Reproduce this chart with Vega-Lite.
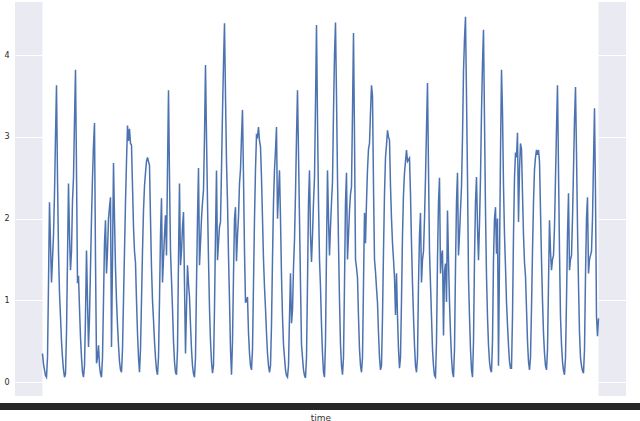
{
"$schema": "https://vega.github.io/schema/vega-lite/v6.json",
"width": 611, "height": 394,
"autosize": {"type": "none"},
"padding": {"left": 15, "top": 2, "right": 14, "bottom": 25},
"background": "white",
"config": {"view": {"fill": "#EAEAF2", "stroke": null}, "font": "DejaVu Sans"},
"data": {"values": [
{"time":"2016-01-01T00:00","value":0.35},{"time":"2016-01-01T01:00","value":0.22},{"time":"2016-01-01T02:00","value":0.15},{"time":"2016-01-01T03:00","value":0.08},{"time":"2016-01-01T04:00","value":0.06},{"time":"2016-01-01T05:00","value":0.3},{"time":"2016-01-01T06:00","value":1.2},{"time":"2016-01-01T07:00","value":2.2},{"time":"2016-01-01T08:00","value":1.7},{"time":"2016-01-01T09:00","value":1.22},{"time":"2016-01-01T10:00","value":1.5},{"time":"2016-01-01T11:00","value":1.8},{"time":"2016-01-01T12:00","value":2.3},{"time":"2016-01-01T13:00","value":3.0},{"time":"2016-01-01T14:00","value":3.63},{"time":"2016-01-01T15:00","value":2.5},{"time":"2016-01-01T16:00","value":1.6},{"time":"2016-01-01T17:00","value":1.09},{"time":"2016-01-01T18:00","value":0.8},{"time":"2016-01-01T19:00","value":0.5},{"time":"2016-01-01T20:00","value":0.3},{"time":"2016-01-01T21:00","value":0.15},{"time":"2016-01-01T22:00","value":0.06},{"time":"2016-01-01T23:00","value":0.1},
{"time":"2016-01-02T00:00","value":0.6},{"time":"2016-01-02T01:00","value":1.5},{"time":"2016-01-02T02:00","value":2.43},{"time":"2016-01-02T03:00","value":1.8},{"time":"2016-01-02T04:00","value":1.37},{"time":"2016-01-02T05:00","value":1.6},{"time":"2016-01-02T06:00","value":2.22},{"time":"2016-01-02T07:00","value":2.5},{"time":"2016-01-02T08:00","value":3.2},{"time":"2016-01-02T09:00","value":3.82},{"time":"2016-01-02T10:00","value":2.6},{"time":"2016-01-02T11:00","value":1.21},{"time":"2016-01-02T12:00","value":1.3},{"time":"2016-01-02T13:00","value":0.9},{"time":"2016-01-02T14:00","value":0.55},{"time":"2016-01-02T15:00","value":0.3},{"time":"2016-01-02T16:00","value":0.12},{"time":"2016-01-02T17:00","value":0.06},{"time":"2016-01-02T18:00","value":0.2},{"time":"2016-01-02T19:00","value":0.8},{"time":"2016-01-02T20:00","value":1.61},{"time":"2016-01-02T21:00","value":1.0},{"time":"2016-01-02T22:00","value":0.43},{"time":"2016-01-02T23:00","value":0.8},
{"time":"2016-01-03T00:00","value":1.4},{"time":"2016-01-03T01:00","value":2.0},{"time":"2016-01-03T02:00","value":2.5},{"time":"2016-01-03T03:00","value":2.9},{"time":"2016-01-03T04:00","value":3.17},{"time":"2016-01-03T05:00","value":1.5},{"time":"2016-01-03T06:00","value":0.23},{"time":"2016-01-03T07:00","value":0.3},{"time":"2016-01-03T08:00","value":0.45},{"time":"2016-01-03T09:00","value":0.2},{"time":"2016-01-03T10:00","value":0.1},{"time":"2016-01-03T11:00","value":0.06},{"time":"2016-01-03T12:00","value":0.3},{"time":"2016-01-03T13:00","value":1.0},{"time":"2016-01-03T14:00","value":1.7},{"time":"2016-01-03T15:00","value":1.98},{"time":"2016-01-03T16:00","value":1.33},{"time":"2016-01-03T17:00","value":1.6},{"time":"2016-01-03T18:00","value":2.0},{"time":"2016-01-03T19:00","value":2.14},{"time":"2016-01-03T20:00","value":2.26},{"time":"2016-01-03T21:00","value":0.43},{"time":"2016-01-03T22:00","value":1.5},{"time":"2016-01-03T23:00","value":2.68},
{"time":"2016-01-04T00:00","value":2.0},{"time":"2016-01-04T01:00","value":1.4},{"time":"2016-01-04T02:00","value":1.0},{"time":"2016-01-04T03:00","value":0.7},{"time":"2016-01-04T04:00","value":0.45},{"time":"2016-01-04T05:00","value":0.25},{"time":"2016-01-04T06:00","value":0.15},{"time":"2016-01-04T07:00","value":0.12},{"time":"2016-01-04T08:00","value":0.4},{"time":"2016-01-04T09:00","value":1.0},{"time":"2016-01-04T10:00","value":1.6},{"time":"2016-01-04T11:00","value":2.2},{"time":"2016-01-04T12:00","value":2.7},{"time":"2016-01-04T13:00","value":3.14},{"time":"2016-01-04T14:00","value":2.95},{"time":"2016-01-04T15:00","value":3.1},{"time":"2016-01-04T16:00","value":2.92},{"time":"2016-01-04T17:00","value":2.9},{"time":"2016-01-04T18:00","value":2.4},{"time":"2016-01-04T19:00","value":1.9},{"time":"2016-01-04T20:00","value":1.6},{"time":"2016-01-04T21:00","value":1.46},{"time":"2016-01-04T22:00","value":1.0},{"time":"2016-01-04T23:00","value":0.6},
{"time":"2016-01-05T00:00","value":0.3},{"time":"2016-01-05T01:00","value":0.12},{"time":"2016-01-05T02:00","value":0.4},{"time":"2016-01-05T03:00","value":1.0},{"time":"2016-01-05T04:00","value":1.6},{"time":"2016-01-05T05:00","value":2.1},{"time":"2016-01-05T06:00","value":2.4},{"time":"2016-01-05T07:00","value":2.56},{"time":"2016-01-05T08:00","value":2.7},{"time":"2016-01-05T09:00","value":2.75},{"time":"2016-01-05T10:00","value":2.7},{"time":"2016-01-05T11:00","value":2.65},{"time":"2016-01-05T12:00","value":2.0},{"time":"2016-01-05T13:00","value":1.4},{"time":"2016-01-05T14:00","value":1.0},{"time":"2016-01-05T15:00","value":0.76},{"time":"2016-01-05T16:00","value":0.5},{"time":"2016-01-05T17:00","value":0.3},{"time":"2016-01-05T18:00","value":0.15},{"time":"2016-01-05T19:00","value":0.09},{"time":"2016-01-05T20:00","value":0.3},{"time":"2016-01-05T21:00","value":1.0},{"time":"2016-01-05T22:00","value":1.8},{"time":"2016-01-05T23:00","value":2.25},
{"time":"2016-01-06T00:00","value":1.22},{"time":"2016-01-06T01:00","value":1.52},{"time":"2016-01-06T02:00","value":1.8},{"time":"2016-01-06T03:00","value":2.04},{"time":"2016-01-06T04:00","value":1.55},{"time":"2016-01-06T05:00","value":2.6},{"time":"2016-01-06T06:00","value":3.57},{"time":"2016-01-06T07:00","value":2.5},{"time":"2016-01-06T08:00","value":1.6},{"time":"2016-01-06T09:00","value":1.25},{"time":"2016-01-06T10:00","value":0.9},{"time":"2016-01-06T11:00","value":0.5},{"time":"2016-01-06T12:00","value":0.25},{"time":"2016-01-06T13:00","value":0.12},{"time":"2016-01-06T14:00","value":0.09},{"time":"2016-01-06T15:00","value":0.4},{"time":"2016-01-06T16:00","value":1.5},{"time":"2016-01-06T17:00","value":2.43},{"time":"2016-01-06T18:00","value":1.43},{"time":"2016-01-06T19:00","value":1.6},{"time":"2016-01-06T20:00","value":1.9},{"time":"2016-01-06T21:00","value":2.08},{"time":"2016-01-06T22:00","value":1.2},{"time":"2016-01-06T23:00","value":0.35},
{"time":"2016-01-07T00:00","value":0.9},{"time":"2016-01-07T01:00","value":1.43},{"time":"2016-01-07T02:00","value":1.2},{"time":"2016-01-07T03:00","value":1.04},{"time":"2016-01-07T04:00","value":0.7},{"time":"2016-01-07T05:00","value":0.4},{"time":"2016-01-07T06:00","value":0.2},{"time":"2016-01-07T07:00","value":0.1},{"time":"2016-01-07T08:00","value":0.06},{"time":"2016-01-07T09:00","value":0.3},{"time":"2016-01-07T10:00","value":1.2},{"time":"2016-01-07T11:00","value":2.0},{"time":"2016-01-07T12:00","value":2.62},{"time":"2016-01-07T13:00","value":1.43},{"time":"2016-01-07T14:00","value":1.7},{"time":"2016-01-07T15:00","value":2.0},{"time":"2016-01-07T16:00","value":2.2},{"time":"2016-01-07T17:00","value":2.35},{"time":"2016-01-07T18:00","value":3.0},{"time":"2016-01-07T19:00","value":3.88},{"time":"2016-01-07T20:00","value":3.0},{"time":"2016-01-07T21:00","value":2.2},{"time":"2016-01-07T22:00","value":1.5},{"time":"2016-01-07T23:00","value":0.9},
{"time":"2016-01-08T00:00","value":0.5},{"time":"2016-01-08T01:00","value":0.25},{"time":"2016-01-08T02:00","value":0.11},{"time":"2016-01-08T03:00","value":0.2},{"time":"2016-01-08T04:00","value":0.9},{"time":"2016-01-08T05:00","value":1.8},{"time":"2016-01-08T06:00","value":2.59},{"time":"2016-01-08T07:00","value":1.49},{"time":"2016-01-08T08:00","value":1.7},{"time":"2016-01-08T09:00","value":1.9},{"time":"2016-01-08T10:00","value":1.96},{"time":"2016-01-08T11:00","value":2.6},{"time":"2016-01-08T12:00","value":3.3},{"time":"2016-01-08T13:00","value":3.9},{"time":"2016-01-08T14:00","value":4.39},{"time":"2016-01-08T15:00","value":3.5},{"time":"2016-01-08T16:00","value":2.7},{"time":"2016-01-08T17:00","value":2.2},{"time":"2016-01-08T18:00","value":1.55},{"time":"2016-01-08T19:00","value":1.0},{"time":"2016-01-08T20:00","value":0.4},{"time":"2016-01-08T21:00","value":0.09},{"time":"2016-01-08T22:00","value":0.5},{"time":"2016-01-08T23:00","value":1.3},
{"time":"2016-01-09T00:00","value":2.0},{"time":"2016-01-09T01:00","value":2.14},{"time":"2016-01-09T02:00","value":1.48},{"time":"2016-01-09T03:00","value":1.8},{"time":"2016-01-09T04:00","value":2.02},{"time":"2016-01-09T05:00","value":2.43},{"time":"2016-01-09T06:00","value":2.6},{"time":"2016-01-09T07:00","value":3.0},{"time":"2016-01-09T08:00","value":3.33},{"time":"2016-01-09T09:00","value":2.5},{"time":"2016-01-09T10:00","value":1.6},{"time":"2016-01-09T11:00","value":0.97},{"time":"2016-01-09T12:00","value":1.0},{"time":"2016-01-09T13:00","value":1.04},{"time":"2016-01-09T14:00","value":0.6},{"time":"2016-01-09T15:00","value":0.35},{"time":"2016-01-09T16:00","value":0.2},{"time":"2016-01-09T17:00","value":0.15},{"time":"2016-01-09T18:00","value":0.4},{"time":"2016-01-09T19:00","value":1.2},{"time":"2016-01-09T20:00","value":2.0},{"time":"2016-01-09T21:00","value":2.6},{"time":"2016-01-09T22:00","value":3.02},{"time":"2016-01-09T23:00","value":3.0},
{"time":"2016-01-10T00:00","value":3.12},{"time":"2016-01-10T01:00","value":2.95},{"time":"2016-01-10T02:00","value":2.88},{"time":"2016-01-10T03:00","value":2.5},{"time":"2016-01-10T04:00","value":2.0},{"time":"2016-01-10T05:00","value":1.5},{"time":"2016-01-10T06:00","value":1.16},{"time":"2016-01-10T07:00","value":0.9},{"time":"2016-01-10T08:00","value":0.6},{"time":"2016-01-10T09:00","value":0.35},{"time":"2016-01-10T10:00","value":0.2},{"time":"2016-01-10T11:00","value":0.12},{"time":"2016-01-10T12:00","value":0.2},{"time":"2016-01-10T13:00","value":0.7},{"time":"2016-01-10T14:00","value":1.5},{"time":"2016-01-10T15:00","value":2.2},{"time":"2016-01-10T16:00","value":2.6},{"time":"2016-01-10T17:00","value":2.84},{"time":"2016-01-10T18:00","value":3.12},{"time":"2016-01-10T19:00","value":2.0},{"time":"2016-01-10T20:00","value":2.3},{"time":"2016-01-10T21:00","value":2.59},{"time":"2016-01-10T22:00","value":2.0},{"time":"2016-01-10T23:00","value":1.3},
{"time":"2016-01-11T00:00","value":0.8},{"time":"2016-01-11T01:00","value":0.46},{"time":"2016-01-11T02:00","value":0.3},{"time":"2016-01-11T03:00","value":0.15},{"time":"2016-01-11T04:00","value":0.08},{"time":"2016-01-11T05:00","value":0.06},{"time":"2016-01-11T06:00","value":0.2},{"time":"2016-01-11T07:00","value":0.8},{"time":"2016-01-11T08:00","value":1.33},{"time":"2016-01-11T09:00","value":0.72},{"time":"2016-01-11T10:00","value":0.88},{"time":"2016-01-11T11:00","value":1.4},{"time":"2016-01-11T12:00","value":1.74},{"time":"2016-01-11T13:00","value":2.3},{"time":"2016-01-11T14:00","value":3.0},{"time":"2016-01-11T15:00","value":3.57},{"time":"2016-01-11T16:00","value":2.8},{"time":"2016-01-11T17:00","value":2.0},{"time":"2016-01-11T18:00","value":1.2},{"time":"2016-01-11T19:00","value":0.46},{"time":"2016-01-11T20:00","value":0.3},{"time":"2016-01-11T21:00","value":0.15},{"time":"2016-01-11T22:00","value":0.08},{"time":"2016-01-11T23:00","value":0.05},
{"time":"2016-01-12T00:00","value":0.3},{"time":"2016-01-12T01:00","value":1.2},{"time":"2016-01-12T02:00","value":2.2},{"time":"2016-01-12T03:00","value":2.59},{"time":"2016-01-12T04:00","value":1.8},{"time":"2016-01-12T05:00","value":1.47},{"time":"2016-01-12T06:00","value":1.8},{"time":"2016-01-12T07:00","value":2.2},{"time":"2016-01-12T08:00","value":2.5},{"time":"2016-01-12T09:00","value":3.4},{"time":"2016-01-12T10:00","value":4.37},{"time":"2016-01-12T11:00","value":3.2},{"time":"2016-01-12T12:00","value":2.2},{"time":"2016-01-12T13:00","value":1.5},{"time":"2016-01-12T14:00","value":1.16},{"time":"2016-01-12T15:00","value":0.7},{"time":"2016-01-12T16:00","value":0.35},{"time":"2016-01-12T17:00","value":0.12},{"time":"2016-01-12T18:00","value":0.06},{"time":"2016-01-12T19:00","value":0.5},{"time":"2016-01-12T20:00","value":1.6},{"time":"2016-01-12T21:00","value":2.59},{"time":"2016-01-12T22:00","value":2.0},{"time":"2016-01-12T23:00","value":1.55},
{"time":"2016-01-13T00:00","value":1.9},{"time":"2016-01-13T01:00","value":2.2},{"time":"2016-01-13T02:00","value":2.45},{"time":"2016-01-13T03:00","value":3.3},{"time":"2016-01-13T04:00","value":4.0},{"time":"2016-01-13T05:00","value":4.4},{"time":"2016-01-13T06:00","value":3.5},{"time":"2016-01-13T07:00","value":2.5},{"time":"2016-01-13T08:00","value":1.7},{"time":"2016-01-13T09:00","value":1.0},{"time":"2016-01-13T10:00","value":0.46},{"time":"2016-01-13T11:00","value":0.2},{"time":"2016-01-13T12:00","value":0.09},{"time":"2016-01-13T13:00","value":0.3},{"time":"2016-01-13T14:00","value":1.2},{"time":"2016-01-13T15:00","value":2.2},{"time":"2016-01-13T16:00","value":2.56},{"time":"2016-01-13T17:00","value":1.5},{"time":"2016-01-13T18:00","value":1.8},{"time":"2016-01-13T19:00","value":2.1},{"time":"2016-01-13T20:00","value":2.3},{"time":"2016-01-13T21:00","value":2.39},{"time":"2016-01-13T22:00","value":3.3},{"time":"2016-01-13T23:00","value":4.27},
{"time":"2016-01-14T00:00","value":3.0},{"time":"2016-01-14T01:00","value":1.5},{"time":"2016-01-14T02:00","value":1.4},{"time":"2016-01-14T03:00","value":1.28},{"time":"2016-01-14T04:00","value":0.8},{"time":"2016-01-14T05:00","value":0.4},{"time":"2016-01-14T06:00","value":0.2},{"time":"2016-01-14T07:00","value":0.12},{"time":"2016-01-14T08:00","value":0.3},{"time":"2016-01-14T09:00","value":1.2},{"time":"2016-01-14T10:00","value":2.07},{"time":"2016-01-14T11:00","value":1.7},{"time":"2016-01-14T12:00","value":2.2},{"time":"2016-01-14T13:00","value":2.6},{"time":"2016-01-14T14:00","value":2.85},{"time":"2016-01-14T15:00","value":2.92},{"time":"2016-01-14T16:00","value":3.3},{"time":"2016-01-14T17:00","value":3.63},{"time":"2016-01-14T18:00","value":3.5},{"time":"2016-01-14T19:00","value":2.4},{"time":"2016-01-14T20:00","value":1.5},{"time":"2016-01-14T21:00","value":1.35},{"time":"2016-01-14T22:00","value":1.15},{"time":"2016-01-14T23:00","value":0.97},
{"time":"2016-01-15T00:00","value":0.6},{"time":"2016-01-15T01:00","value":0.3},{"time":"2016-01-15T02:00","value":0.15},{"time":"2016-01-15T03:00","value":0.2},{"time":"2016-01-15T04:00","value":0.8},{"time":"2016-01-15T05:00","value":1.6},{"time":"2016-01-15T06:00","value":2.3},{"time":"2016-01-15T07:00","value":2.75},{"time":"2016-01-15T08:00","value":2.9},{"time":"2016-01-15T09:00","value":3.08},{"time":"2016-01-15T10:00","value":3.0},{"time":"2016-01-15T11:00","value":2.96},{"time":"2016-01-15T12:00","value":2.4},{"time":"2016-01-15T13:00","value":2.0},{"time":"2016-01-15T14:00","value":1.7},{"time":"2016-01-15T15:00","value":1.5},{"time":"2016-01-15T16:00","value":1.28},{"time":"2016-01-15T17:00","value":0.82},{"time":"2016-01-15T18:00","value":1.33},{"time":"2016-01-15T19:00","value":0.8},{"time":"2016-01-15T20:00","value":0.4},{"time":"2016-01-15T21:00","value":0.17},{"time":"2016-01-15T22:00","value":0.3},{"time":"2016-01-15T23:00","value":1.0},
{"time":"2016-01-16T00:00","value":1.8},{"time":"2016-01-16T01:00","value":2.3},{"time":"2016-01-16T02:00","value":2.56},{"time":"2016-01-16T03:00","value":2.7},{"time":"2016-01-16T04:00","value":2.84},{"time":"2016-01-16T05:00","value":2.7},{"time":"2016-01-16T06:00","value":2.72},{"time":"2016-01-16T07:00","value":2.74},{"time":"2016-01-16T08:00","value":2.3},{"time":"2016-01-16T09:00","value":1.7},{"time":"2016-01-16T10:00","value":1.2},{"time":"2016-01-16T11:00","value":0.8},{"time":"2016-01-16T12:00","value":0.45},{"time":"2016-01-16T13:00","value":0.2},{"time":"2016-01-16T14:00","value":0.12},{"time":"2016-01-16T15:00","value":0.3},{"time":"2016-01-16T16:00","value":1.2},{"time":"2016-01-16T17:00","value":1.8},{"time":"2016-01-16T18:00","value":2.07},{"time":"2016-01-16T19:00","value":1.22},{"time":"2016-01-16T20:00","value":1.5},{"time":"2016-01-16T21:00","value":1.6},{"time":"2016-01-16T22:00","value":2.0},{"time":"2016-01-16T23:00","value":2.5},
{"time":"2016-01-17T00:00","value":3.1},{"time":"2016-01-17T01:00","value":3.66},{"time":"2016-01-17T02:00","value":2.6},{"time":"2016-01-17T03:00","value":1.6},{"time":"2016-01-17T04:00","value":1.2},{"time":"2016-01-17T05:00","value":0.8},{"time":"2016-01-17T06:00","value":0.4},{"time":"2016-01-17T07:00","value":0.2},{"time":"2016-01-17T08:00","value":0.08},{"time":"2016-01-17T09:00","value":0.06},{"time":"2016-01-17T10:00","value":0.5},{"time":"2016-01-17T11:00","value":1.5},{"time":"2016-01-17T12:00","value":2.2},{"time":"2016-01-17T13:00","value":2.5},{"time":"2016-01-17T14:00","value":1.33},{"time":"2016-01-17T15:00","value":1.55},{"time":"2016-01-17T16:00","value":1.61},{"time":"2016-01-17T17:00","value":0.57},{"time":"2016-01-17T18:00","value":1.35},{"time":"2016-01-17T19:00","value":1.45},{"time":"2016-01-17T20:00","value":0.98},{"time":"2016-01-17T21:00","value":2.1},{"time":"2016-01-17T22:00","value":1.5},{"time":"2016-01-17T23:00","value":0.98},
{"time":"2016-01-18T00:00","value":0.6},{"time":"2016-01-18T01:00","value":0.3},{"time":"2016-01-18T02:00","value":0.12},{"time":"2016-01-18T03:00","value":0.06},{"time":"2016-01-18T04:00","value":0.4},{"time":"2016-01-18T05:00","value":1.4},{"time":"2016-01-18T06:00","value":2.2},{"time":"2016-01-18T07:00","value":2.56},{"time":"2016-01-18T08:00","value":1.55},{"time":"2016-01-18T09:00","value":1.8},{"time":"2016-01-18T10:00","value":2.1},{"time":"2016-01-18T11:00","value":2.39},{"time":"2016-01-18T12:00","value":3.0},{"time":"2016-01-18T13:00","value":3.8},{"time":"2016-01-18T14:00","value":4.2},{"time":"2016-01-18T15:00","value":4.47},{"time":"2016-01-18T16:00","value":3.5},{"time":"2016-01-18T17:00","value":2.5},{"time":"2016-01-18T18:00","value":1.28},{"time":"2016-01-18T19:00","value":0.8},{"time":"2016-01-18T20:00","value":0.4},{"time":"2016-01-18T21:00","value":0.15},{"time":"2016-01-18T22:00","value":0.06},{"time":"2016-01-18T23:00","value":0.5},
{"time":"2016-01-19T00:00","value":1.5},{"time":"2016-01-19T01:00","value":2.2},{"time":"2016-01-19T02:00","value":2.51},{"time":"2016-01-19T03:00","value":1.9},{"time":"2016-01-19T04:00","value":1.49},{"time":"2016-01-19T05:00","value":1.94},{"time":"2016-01-19T06:00","value":2.5},{"time":"2016-01-19T07:00","value":3.3},{"time":"2016-01-19T08:00","value":3.9},{"time":"2016-01-19T09:00","value":4.31},{"time":"2016-01-19T10:00","value":3.2},{"time":"2016-01-19T11:00","value":2.1},{"time":"2016-01-19T12:00","value":1.3},{"time":"2016-01-19T13:00","value":0.8},{"time":"2016-01-19T14:00","value":0.45},{"time":"2016-01-19T15:00","value":0.25},{"time":"2016-01-19T16:00","value":0.15},{"time":"2016-01-19T17:00","value":0.12},{"time":"2016-01-19T18:00","value":0.5},{"time":"2016-01-19T19:00","value":1.5},{"time":"2016-01-19T20:00","value":2.0},{"time":"2016-01-19T21:00","value":2.14},{"time":"2016-01-19T22:00","value":1.57},{"time":"2016-01-19T23:00","value":2.0},
{"time":"2016-01-20T00:00","value":0.2},{"time":"2016-01-20T01:00","value":1.5},{"time":"2016-01-20T02:00","value":2.8},{"time":"2016-01-20T03:00","value":3.82},{"time":"2016-01-20T04:00","value":3.3},{"time":"2016-01-20T05:00","value":2.4},{"time":"2016-01-20T06:00","value":1.8},{"time":"2016-01-20T07:00","value":1.41},{"time":"2016-01-20T08:00","value":0.98},{"time":"2016-01-20T09:00","value":0.7},{"time":"2016-01-20T10:00","value":0.45},{"time":"2016-01-20T11:00","value":0.25},{"time":"2016-01-20T12:00","value":0.17},{"time":"2016-01-20T13:00","value":0.17},{"time":"2016-01-20T14:00","value":0.8},{"time":"2016-01-20T15:00","value":1.8},{"time":"2016-01-20T16:00","value":2.5},{"time":"2016-01-20T17:00","value":2.81},{"time":"2016-01-20T18:00","value":2.75},{"time":"2016-01-20T19:00","value":3.05},{"time":"2016-01-20T20:00","value":1.96},{"time":"2016-01-20T21:00","value":2.6},{"time":"2016-01-20T22:00","value":2.92},{"time":"2016-01-20T23:00","value":2.85},
{"time":"2016-01-21T00:00","value":2.3},{"time":"2016-01-21T01:00","value":1.8},{"time":"2016-01-21T02:00","value":1.46},{"time":"2016-01-21T03:00","value":1.3},{"time":"2016-01-21T04:00","value":0.9},{"time":"2016-01-21T05:00","value":0.5},{"time":"2016-01-21T06:00","value":0.25},{"time":"2016-01-21T07:00","value":0.15},{"time":"2016-01-21T08:00","value":0.3},{"time":"2016-01-21T09:00","value":0.9},{"time":"2016-01-21T10:00","value":1.6},{"time":"2016-01-21T11:00","value":2.2},{"time":"2016-01-21T12:00","value":2.6},{"time":"2016-01-21T13:00","value":2.75},{"time":"2016-01-21T14:00","value":2.84},{"time":"2016-01-21T15:00","value":2.78},{"time":"2016-01-21T16:00","value":2.84},{"time":"2016-01-21T17:00","value":2.7},{"time":"2016-01-21T18:00","value":2.1},{"time":"2016-01-21T19:00","value":1.5},{"time":"2016-01-21T20:00","value":1.0},{"time":"2016-01-21T21:00","value":0.6},{"time":"2016-01-21T22:00","value":0.35},{"time":"2016-01-21T23:00","value":0.2},
{"time":"2016-01-22T00:00","value":0.15},{"time":"2016-01-22T01:00","value":0.4},{"time":"2016-01-22T02:00","value":1.2},{"time":"2016-01-22T03:00","value":1.98},{"time":"2016-01-22T04:00","value":1.6},{"time":"2016-01-22T05:00","value":1.37},{"time":"2016-01-22T06:00","value":1.5},{"time":"2016-01-22T07:00","value":1.55},{"time":"2016-01-22T08:00","value":1.9},{"time":"2016-01-22T09:00","value":2.5},{"time":"2016-01-22T10:00","value":3.1},{"time":"2016-01-22T11:00","value":3.63},{"time":"2016-01-22T12:00","value":2.6},{"time":"2016-01-22T13:00","value":1.6},{"time":"2016-01-22T14:00","value":0.8},{"time":"2016-01-22T15:00","value":0.46},{"time":"2016-01-22T16:00","value":0.25},{"time":"2016-01-22T17:00","value":0.14},{"time":"2016-01-22T18:00","value":0.09},{"time":"2016-01-22T19:00","value":0.3},{"time":"2016-01-22T20:00","value":1.0},{"time":"2016-01-22T21:00","value":1.8},{"time":"2016-01-22T22:00","value":2.31},{"time":"2016-01-22T23:00","value":1.37},
{"time":"2016-01-23T00:00","value":1.5},{"time":"2016-01-23T01:00","value":1.55},{"time":"2016-01-23T02:00","value":2.0},{"time":"2016-01-23T03:00","value":2.6},{"time":"2016-01-23T04:00","value":3.2},{"time":"2016-01-23T05:00","value":3.61},{"time":"2016-01-23T06:00","value":2.8},{"time":"2016-01-23T07:00","value":1.9},{"time":"2016-01-23T08:00","value":1.2},{"time":"2016-01-23T09:00","value":0.6},{"time":"2016-01-23T10:00","value":0.3},{"time":"2016-01-23T11:00","value":0.2},{"time":"2016-01-23T12:00","value":0.14},{"time":"2016-01-23T13:00","value":0.11},{"time":"2016-01-23T14:00","value":0.4},{"time":"2016-01-23T15:00","value":1.3},{"time":"2016-01-23T16:00","value":2.0},{"time":"2016-01-23T17:00","value":2.26},{"time":"2016-01-23T18:00","value":1.33},{"time":"2016-01-23T19:00","value":1.5},{"time":"2016-01-23T20:00","value":1.55},{"time":"2016-01-23T21:00","value":1.6},{"time":"2016-01-23T22:00","value":2.0},{"time":"2016-01-23T23:00","value":2.7},
{"time":"2016-01-24T00:00","value":3.35},{"time":"2016-01-24T01:00","value":2.3},{"time":"2016-01-24T02:00","value":0.8},{"time":"2016-01-24T03:00","value":0.56},{"time":"2016-01-24T04:00","value":0.78}
]},
"layer": [
{"mark": {"type": "rect", "color": "white"},
 "encoding": {
  "x": {"field": "time", "type": "temporal", "aggregate": "min"},
  "x2": {"field": "time", "aggregate": "max"}
 }},
{"mark": {"type": "line", "color": "#4C72B0", "strokeWidth": 1.5},
 "encoding": {
  "x": {"field": "time", "type": "temporal", "title": "time",
        "scale": {"nice": false, "domain": [{"year": 2015, "month": 12, "date": 30, "hours": 20, "minutes": 30}, {"year": 2016, "month": 1, "date": 25, "hours": 7, "minutes": 30}]},
        "axis": {"grid": false, "domain": false, "ticks": false,
                 "tickCount": 700,
                 "format": "%Y-%m-%d %H:%M:%S", "labelOverlap": false,
                 "labelFlush": false, "labelBound": false, "labelAngle": 0,
                 "labelFontSize": 8, "labelColor": "#262626", "labelPadding": 7,
                 "titleFontSize": 9, "titleFontWeight": "normal", "titleColor": "#333333", "titlePadding": 2}},
  "y": {"field": "value", "type": "quantitative", "title": null,
        "scale": {"domain": [-0.17, 4.65], "nice": false, "zero": false},
        "axis": {"values": [0, 1, 2, 3, 4], "grid": true, "gridColor": "white", "gridWidth": 1,
                 "domain": false, "ticks": false, "labelFontSize": 8, "labelColor": "#262626",
                 "labelPadding": 6}}
 }}
]
}
